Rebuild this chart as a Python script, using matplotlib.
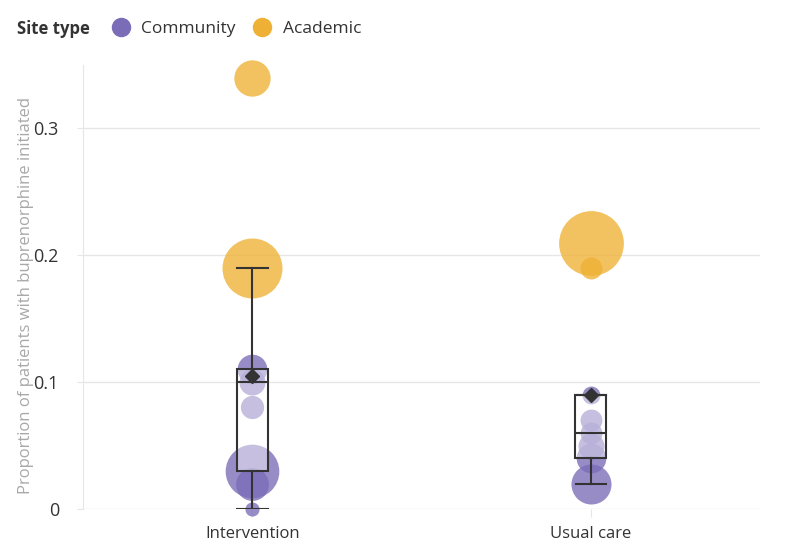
import matplotlib
matplotlib.use("Agg")
import matplotlib.pyplot as plt
from matplotlib.lines import Line2D
import numpy as np

plt.rcParams["font.family"] = ["Open Sans", "DejaVu Sans"]

COMMUNITY = "#7B6CB8"; ACADEMIC = "#EFB135"; DARK = "#333333"; GRID = "#E6E6E6"; LABEL = "#A8A8A8"

arms = ["Intervention", "Usual care"]

# site-level proportions and rough site sizes (patients)
int_prop   = [0.34, 0.19, 0.11, 0.10, 0.08, 0.03, 0.02, 0.00]
int_type   = ["A",  "A",  "C",  "C",  "C",  "C",  "C",  "C"]
int_n      = [330,  900,  220,  170,  135,  720,  270,  50]

uc_prop    = [0.21, 0.19, 0.09, 0.07, 0.06, 0.05, 0.04, 0.02]
uc_type    = ["A",  "A",  "C",  "C",  "C",  "C",  "C",  "C"]
uc_n       = [1050, 120,  80,   120,  120,  170,  220,  400]

# box summaries
box_low    = [0.00, 0.02]
box_q1     = [0.03, 0.04]
box_med    = [0.10, 0.06]
box_q3     = [0.11, 0.09]
box_high   = [0.19, 0.09]
box_mean   = [0.105, 0.09]

fig = plt.figure(figsize=(8, 5.49), dpi=100)
ax = fig.add_axes([0.104, 0.0729, 0.846, 0.8087])

SCALE = (2 * 0.72) ** 2  # px^2 -> pt^2 for a radius-like size
for xi, (props, types, ns) in enumerate([(int_prop, int_type, int_n), (uc_prop, uc_type, uc_n)]):
    for p, t, n in zip(props, types, ns):
        ax.scatter(xi, p, s=n * SCALE, color=COMMUNITY if t == "C" else ACADEMIC,
                   alpha=0.78, linewidths=0, zorder=2, clip_on=False)

stats = [dict(whislo=lo, q1=q1, med=m, q3=q3, whishi=hi, mean=mu, fliers=[])
         for lo, q1, m, q3, hi, mu in zip(box_low, box_q1, box_med, box_q3, box_high, box_mean)]
ax.bxp(stats, positions=[0, 1], widths=0.092, showmeans=True, patch_artist=True,
       boxprops=dict(facecolor=(1, 1, 1, 0.45), edgecolor=DARK, lw=1.5),
       medianprops=dict(color=DARK, lw=1.5),
       whiskerprops=dict(color=DARK, lw=1.5),
       capprops=dict(color=DARK, lw=1.5),
       meanprops=dict(marker="D", markerfacecolor=DARK, markeredgecolor=DARK, markersize=7.5),
       capwidths=0.09, zorder=3, manage_ticks=False)

ax.set_xlim(-0.5, 1.5)
ax.set_ylim(0, 0.35)
ax.set_xticks([0, 1]); ax.set_xticklabels(arms, fontsize=12, color=DARK)
ax.set_yticks([0, 0.1, 0.2, 0.3]); ax.set_yticklabels(["0", "0.1", "0.2", "0.3"], fontsize=13, color=DARK)
ax.tick_params(axis="y", length=4.5, color=GRID, pad=13)
ax.tick_params(axis="x", length=6, color=GRID, pad=6)
ax.yaxis.grid(True, color=GRID, lw=1)
ax.set_axisbelow(True)
for sp in ["top", "right", "bottom"]:
    ax.spines[sp].set_visible(False)
ax.spines["left"].set_color(GRID)
ax.set_ylabel("Proportion of patients with buprenorphine initiated", fontsize=12, color=LABEL)
ax.yaxis.set_label_coords(-0.072, 0.48)

handles = [Line2D([], [], marker="o", ls="", color=COMMUNITY, markersize=13),
           Line2D([], [], marker="o", ls="", color=ACADEMIC, markersize=13)]
fig.text(0.021, 0.948, "Site type", fontsize=12, fontweight="bold", color=DARK, va="center")
fig.legend(handles, ["Community", "Academic"], loc="center left", bbox_to_anchor=(0.129, 0.948),
           ncol=2, frameon=False, fontsize=12.5, handletextpad=0.2, columnspacing=0.5,
           borderaxespad=0, borderpad=0, labelcolor=DARK)

fig.savefig("out.png", dpi=100, facecolor="white")
